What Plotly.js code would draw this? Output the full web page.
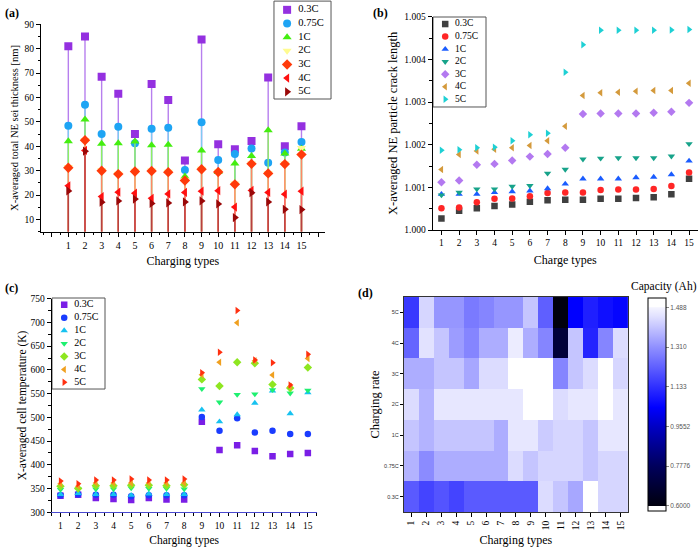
<!DOCTYPE html>
<html><head><meta charset="utf-8">
<script src="https://cdn.plot.ly/plotly-3.0.1.min.js"></script>
<style>html,body{margin:0;padding:0;background:#fff}#c{width:700px;height:547px}</style>
</head><body><div id="c"></div>
<script>
const types = [1,2,3,4,5,6,7,8,9,10,11,12,13,14,15];
const rates = ['0.3C','0.75C','1C','2C','3C','4C','5C'];

// (a) SEI thickness [nm]
const seiA = {
  '0.3C': [81,85,68.5,61.5,45,65.5,59,34.2,83.8,40.8,38.8,42.2,68.2,40,48.2],
  '0.75C':[48.4,57,45,48,41.2,47.2,47.6,30.3,49.9,34.4,36.8,39.1,33.3,37.5,41.8],
  '1C':   [42.1,51,41,41.2,42,40.4,40.6,27.6,38.3,29.5,33,36,46.6,37,39],
  '2C':   [31.5,42.6,30.2,28.8,30,30.1,29.6,26.3,30.8,29.7,24.8,33,29,33,39.3],
  '3C':   [31.2,42.5,30,28.6,29.7,29.9,29.4,26,30.6,29.5,24.4,32.8,28.9,32.7,36.6],
  '4C':   [23.8,38.3,19.4,21.2,20.8,18.7,20.5,21.1,21.6,21.8,15.1,21.9,21.1,20.4,21.6],
  '5C':   [21.7,38,17.1,17.6,18.4,16.6,16.8,17.2,17.6,16.4,10.8,21,17.2,14.2,14.1]
};
// (b) crack length
const crackB = {
  '0.3C': [1.00027,1.00045,1.00051,1.00056,1.00060,1.00066,1.00070,1.00071,1.00071,1.00073,1.00073,1.00075,1.00077,1.00084,1.00120],
  '0.75C':[1.00051,1.00053,1.00065,1.00073,1.00074,1.00079,1.00087,1.00088,1.00088,1.00094,1.00095,1.00095,1.00096,1.00103,1.00135],
  '1C':   [1.00084,1.00084,1.00084,1.00088,1.00090,1.00092,1.00097,1.00108,1.00120,1.00120,1.00120,1.00123,1.00124,1.00130,1.00162],
  '2C':   [1.00082,1.00088,1.00096,1.00096,1.00102,1.00104,1.00133,1.00142,1.00166,1.00168,1.00169,1.00169,1.00169,1.00173,1.00202],
  '3C':   [1.00112,1.00116,1.00153,1.00155,1.00163,1.00172,1.00178,1.00193,1.00272,1.00273,1.00273,1.00273,1.00275,1.00277,1.00298],
  '4C':   [1.00142,1.00177,1.00185,1.00189,1.00193,1.00198,1.00209,1.00243,1.00315,1.00322,1.00323,1.00325,1.00327,1.00327,1.00344],
  '5C':   [1.00187,1.00188,1.00193,1.00194,1.00209,1.00223,1.00227,1.00370,1.00434,1.00468,1.00468,1.00468,1.00468,1.00469,1.00470]
};
// (c) cell temperature (K)
const tempC = {
  '0.3C': [335,337,330,328,326,330,327,327,491,431,441,429,418,423,425],
  '0.75C':[336,338,337,337,334,336,336,336,501,472,498,468,472,465,465],
  '1C':   [338,340,338,338,336,339,338,338,516,491,506,530,556,508,552],
  '2C':   [348,349,349,349,351,350,350,349,560,532,548,549,558,551,557],
  '3C':   [355,350,356,356,357,357,356,358,580,566,616,614,569,562,605],
  '4C':   [360,355,362,362,362,362,362,362,590,616,699,619,589,565,624],
  '5C':   [366,360,368,368,370,368,368,370,594,637,725,621,615,568,633]
};
// (d) capacity (Ah), rows 0.3C..5C, columns types 1..15
const capacity = [
  [1.21,1.17,1.20,1.17,1.21,1.21,1.21,1.21,1.21,1.44,1.40,1.35,1.50,1.43,1.43],
  [1.37,1.30,1.36,1.36,1.36,1.36,1.36,1.44,1.40,1.43,1.43,1.43,1.40,1.43,1.43],
  [1.40,1.37,1.40,1.40,1.40,1.40,1.36,1.46,1.46,1.41,1.43,1.43,1.40,1.46,1.46],
  [1.44,1.37,1.46,1.46,1.46,1.46,1.46,1.46,1.50,1.50,1.44,1.46,1.46,1.50,1.46],
  [1.36,1.36,1.40,1.40,1.35,1.44,1.44,1.50,1.50,1.50,1.29,1.40,1.44,1.50,1.43],
  [1.23,1.45,1.40,1.33,1.29,1.36,1.36,1.47,1.36,1.29,0.70,1.40,1.11,1.29,1.44],
  [1.15,1.43,1.32,1.32,1.27,1.29,1.32,1.32,1.40,1.22,0.60,1.04,1.10,1.07,1.05]
];
const cbTicks = [0.6000,0.7776,0.9552,1.133,1.310,1.488];
const cbTickText = ['0.6000','0.7776','0.9552','1.133','1.310','1.488'];

const F = '"Liberation Serif", "Times New Roman", Times, serif';
const S = '"Liberation Sans", Arial, sans-serif';
const symbols = ['square','circle','triangle-up','triangle-down','diamond','triangle-left','triangle-right'];
const colA = ['#9430e0','#1ea4f4','#44ee10','#fffb90','#ff3a0a','#ff1010','#9a0808'];
const stemA = ['#b77fee','#7fcaf2','#8ef062','#fff7a0','#ff8864','#ff6464','#b84040'];
const colB = ['#404040','#ff2626','#1a5cff','#17a38a','#b379f0','#d49a3c','#1ed0d4'];
const colC = ['#7a1ee6','#1a3cff','#17c2f0','#1ef070','#8ee620','#f0a020','#ff3010'];

const traces = [];
rates.forEach((r,i)=>{
  traces.push({x:types,y:seiA[r],type:'scatter',mode:'markers',name:r,xaxis:'x',yaxis:'y',showlegend:false,
    marker:{symbol:symbols[i],size:8,color:colA[i],line:{width:0}},
    error_y:{type:'data',symmetric:false,array:seiA[r].map(()=>0),arrayminus:seiA[r].map(v=>v-5),width:0,thickness:1.4,color:stemA[i]}});
});
rates.forEach((r,i)=>{
  traces.push({x:types,y:crackB[r],type:'scatter',mode:'markers',name:r,xaxis:'x2',yaxis:'y2',showlegend:false,
    marker:{symbol:symbols[i],size:6.5,color:colB[i]}});
});
rates.forEach((r,i)=>{
  traces.push({x:types,y:tempC[r],type:'scatter',mode:'markers',name:r,xaxis:'x3',yaxis:'y3',showlegend:false,
    marker:{symbol:symbols[i],size:6.5,color:colC[i]}});
});
const zmin=0.577, zmax=1.53;
const nrm = v => (v-zmin)/(zmax-zmin);
traces.push({type:'heatmap',z:capacity,x:types,y:[0,1,2,3,4,5,6],xaxis:'x4',yaxis:'y4',zmin:zmin,zmax:zmax,showlegend:false,
  colorscale:[[0,'#ffffff'],[nrm(0.599),'#ffffff'],[nrm(0.6),'#00000e'],[nrm(0.7776),'#00005c'],[nrm(0.9552),'#0000c4'],
    [nrm(1.04),'#0000ff'],[nrm(1.133),'#3030ff'],[nrm(1.31),'#9090ff'],[nrm(1.45),'#e2e2ff'],[nrm(1.487),'#f4f4ff'],[nrm(1.49),'#ffffff'],[1,'#ffffff']],
  colorbar:{x:0.9257,xanchor:'left',xpad:0,ypad:0,y:0.0658,yanchor:'bottom',len:0.39,lenmode:'fraction',thickness:18,outlinecolor:'#000',outlinewidth:1,
    tickvals:cbTicks,ticktext:cbTickText,ticks:'outside',ticklen:3,tickcolor:'#888',tickfont:{family:S,size:6.5,color:'#555'}}
});

// custom compact legends (one per scatter panel), built from the series lists
const legendCols = [colA,colB,colC];
const legendSizes = [8,6.5,6.5];
const legendFont = [10.5,9.5,10];
['x5','x6','x7'].forEach((xa,k)=>{
  traces.push({type:'scatter',mode:'markers+text',xaxis:xa,yaxis:'y'+(5+k),showlegend:false,hoverinfo:'skip',
    x:rates.map(()=>0.23),y:rates.map((_,i)=>i),text:rates.map(r=>'  '+r),textposition:'middle right',
    textfont:{family:F,size:legendFont[k],color:'#000'},
    marker:{symbol:symbols,size:legendSizes[k],color:legendCols[k]}});
});

const tfn = s => ({family:F,size:s,color:'#000'});
const baseAx = {showgrid:false,zeroline:false,showline:true,linecolor:'#000',linewidth:1,ticks:'outside',ticklen:4,tickcolor:'#000',automargin:false};
const hid = {visible:false,fixedrange:true,automargin:false};
const mt = {ticklen:2.5,ticks:'outside',tickcolor:'#000'};

const legBoxes = [[0.3914,0.4729,0.819,0.998],[0.6186,0.6943,0.8044,0.9689],[0.0743,0.150,0.2888,0.4552]];
const legRanges = [[6.53,-0.64],[6.61,-0.56],[6.52,-0.52]];

const layout = {
  width:700,height:547,margin:{l:0,r:0,t:0,b:0,autoexpand:false},paper_bgcolor:'#fff',plot_bgcolor:'rgba(0,0,0,0)',
  font:{family:F},showlegend:false,
  xaxis:Object.assign({},baseAx,{domain:[0.0586,0.464],anchor:'y',range:[-0.64,16.4],tickvals:[0,1,2,3,4,5,6,7,8,9,10,11,12,13,14,15,16],tickfont:tfn(10),
    ticktext:['','1','2','3','4','5','6','7','8','9','10','11','12','13','14','15',''],minor:Object.assign({tickvals:[-0.5,0.5,1.5,2.5,3.5,4.5,5.5,6.5,7.5,8.5,9.5,10.5,11.5,12.5,13.5,14.5,15.5]},mt),
    title:{text:'Charging types',font:tfn(12),standoff:6}}),
  yaxis:Object.assign({},baseAx,{domain:[0.5764,0.9556],anchor:'x',range:[5,90],dtick:10,tick0:0,tickfont:tfn(9.5),minor:Object.assign({dtick:5},mt),
    title:{text:'X-averaged total NE sei thickness [nm]',font:tfn(10.5),standoff:3}}),
  xaxis2:Object.assign({},baseAx,{domain:[0.618,0.997],anchor:'y2',range:[0.5,15.5],dtick:1,tick0:1,tickfont:tfn(9.5),
    title:{text:'Charge types',font:tfn(12),standoff:8}}),
  yaxis2:Object.assign({},baseAx,{domain:[0.5795,0.9695],anchor:'x2',range:[1.000,1.005],dtick:0.001,tickformat:'.3f',tickfont:tfn(9.5),
    minor:Object.assign({dtick:0.0005},mt),
    title:{text:'X-averaged NE particle crack length',font:tfn(12.5),standoff:3}}),
  xaxis3:Object.assign({},baseAx,{domain:[0.0738,0.4524],anchor:'y3',range:[0.5,15.5],dtick:1,tick0:1,linecolor:'#4a4ad0',tickfont:tfn(9.5),
    minor:Object.assign({dtick:0.5},mt),
    title:{text:'Charging types',font:tfn(11.5),standoff:8}}),
  yaxis3:Object.assign({},baseAx,{domain:[0.0634,0.454],anchor:'x3',range:[300,750],dtick:50,tickfont:tfn(9.5),
    minor:Object.assign({dtick:25},mt),
    title:{text:'X-averaged cell temperature (K)',font:tfn(11.5),standoff:1}}),
  xaxis4:Object.assign({},baseAx,{domain:[0.577,0.897],anchor:'y4',range:[0.5,15.5],tickvals:types,tickangle:-90,mirror:true,linecolor:'#333',tickfont:tfn(9.5),
    title:{text:'Charging types',font:tfn(12),standoff:7}}),
  yaxis4:Object.assign({},baseAx,{domain:[0.064,0.457],anchor:'x4',range:[-0.5,6.5],tickvals:[0,1,2,3,4,5,6],ticktext:rates,mirror:true,linecolor:'#333',
    tickfont:{family:S,size:5.5,color:'#333'},ticklen:3,
    title:{text:'Charging rate',font:tfn(12.5),standoff:1}}),
  shapes: legBoxes.map(b=>({type:'rect',xref:'paper',yref:'paper',x0:b[0],x1:b[1],y0:b[2],y1:b[3],line:{color:'#555',width:1},fillcolor:'#fff',layer:'below'})),
  annotations:[
    {text:'<b>(a)</b>',x:0.004,y:0.992,xref:'paper',yref:'paper',xanchor:'left',yanchor:'top',showarrow:false,font:tfn(12)},
    {text:'<b>(b)</b>',x:0.53,y:0.992,xref:'paper',yref:'paper',xanchor:'left',yanchor:'top',showarrow:false,font:tfn(12)},
    {text:'<b>(c)</b>',x:0.004,y:0.49,xref:'paper',yref:'paper',xanchor:'left',yanchor:'top',showarrow:false,font:tfn(12)},
    {text:'<b>(d)</b>',x:0.508,y:0.481,xref:'paper',yref:'paper',xanchor:'left',yanchor:'top',showarrow:false,font:tfn(12)},
    {text:'Capacity (Ah)',x:0.949,y:0.476,xref:'paper',yref:'paper',xanchor:'center',yanchor:'middle',showarrow:false,font:tfn(11.5)}
  ]
};
[5,6,7].forEach((n,k)=>{
  const b = legBoxes[k];
  layout['xaxis'+n] = Object.assign({},hid,{domain:[b[0],b[1]],range:[0,1],anchor:'y'+n});
  layout['yaxis'+n] = Object.assign({},hid,{domain:[b[2],b[3]],range:legRanges[k],anchor:'x'+n});
});
Plotly.newPlot('c',traces,layout,{displayModeBar:false,staticPlot:true});
</script></body></html>
